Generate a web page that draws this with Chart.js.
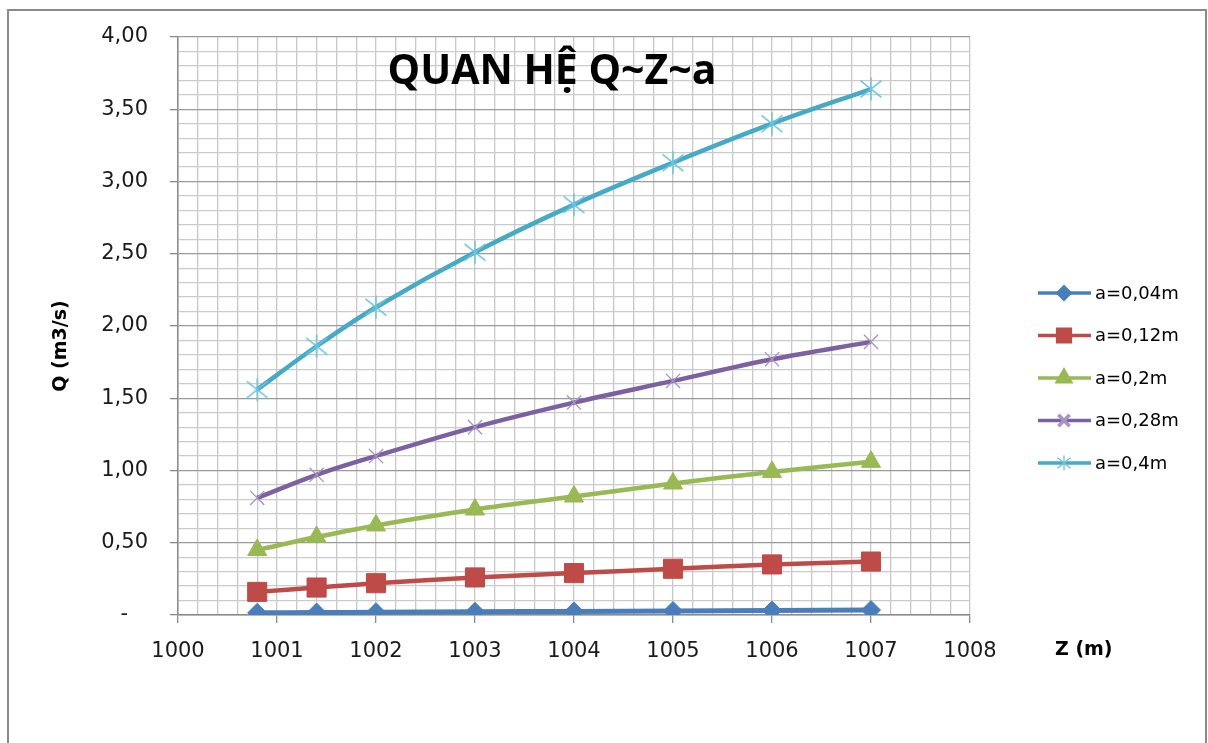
<!DOCTYPE html>
<html>
<head>
<meta charset="utf-8">
<script src="https://cdn.jsdelivr.net/npm/chart.js@4/dist/chart.umd.min.js"></script>
<style>
  body { margin: 0; background: #fff; overflow: hidden; }
  #frame { position: absolute; left: 7px; top: 9px; width: 1196px; height: 800px; border: 2px solid #8a8a8a; }
  #c { position: absolute; left: 0; top: 0; }
</style>
</head>
<body>
<div id="frame"></div>
<canvas id="c" width="1208" height="743" style="width:1208px;height:743px"></canvas>
<script>
// Z (m) values where Q was computed
var zValues = [1000.8, 1001.4, 1002, 1003, 1004, 1005, 1006, 1007];

// Q (m3/s) for each gate opening a
var q004 = [0.015, 0.017, 0.019, 0.022, 0.025, 0.028, 0.031, 0.034];
var q012 = [0.16, 0.19, 0.22, 0.26, 0.29, 0.32, 0.35, 0.37];
var q020 = [0.45, 0.54, 0.62, 0.73, 0.82, 0.91, 0.99, 1.06];
var q028 = [0.81, 0.97, 1.10, 1.30, 1.47, 1.62, 1.77, 1.89];
var q040 = [1.56, 1.86, 2.13, 2.51, 2.84, 3.13, 3.40, 3.64];

var seriesLabels = ['a=0,04m', 'a=0,12m', 'a=0,2m', 'a=0,28m', 'a=0,4m'];
var chartTitle = 'QUAN HỆ Q~Z~a';
var yTitle = 'Q (m3/s)';
var xTitle = 'Z (m)';

function pts(vals) {
    return vals.map(function (v, i) { return { x: zValues[i], y: v }; });
}

function isWhole(v, step) {
    var r = v / step;
    return Math.abs(r - Math.round(r)) < 1e-6;
}

// excel style asterisk marker (X plus a vertical bar)
function asterisk(size, color, lw) {
    var cv = document.createElement('canvas');
    cv.width = size; cv.height = size;
    var g = cv.getContext('2d');
    var h = size / 2, d = h - 1.5;
    g.strokeStyle = color;
    g.lineWidth = lw;
    g.beginPath();
    g.moveTo(h - d, h - d * 0.8); g.lineTo(h + d, h + d * 0.8);
    g.moveTo(h + d, h - d * 0.8); g.lineTo(h - d, h + d * 0.8);
    g.moveTo(h, 0.5); g.lineTo(h, size - 0.5);
    g.stroke();
    return cv;
}
var starBig = asterisk(24, '#6cc3dc', 1.5);
var starSmall = asterisk(16, '#6cc3dc', 1.3);

var styles = [
    { color: '#4a7ebb', mark: '#4a7ebb', style: 'rectRot', r: 9.5, bw: 1, lr: 6, lw: 5 },
    { color: '#be4b48', mark: '#be4b48', style: 'rect', r: 13.5, bw: 1, lr: 9, lw: 4.5 },
    { color: '#98b954', mark: '#98b954', style: 'triangle', r: 11, bw: 1, lr: 7.5, lw: 4.5 },
    { color: '#7d60a0', mark: '#a793c4', style: 'crossRot', r: 10, bw: 1.3, lr: 8, lw: 4.5 },
    { color: '#46aac5', mark: '#6cc3dc', style: starBig, r: 11, bw: 1.3, lr: 8, lw: 4.5 }
];

var allSeries = [q004, q012, q020, q028, q040];
var datasets = allSeries.map(function (vals, i) {
    var s = styles[i];
    return {
        label: seriesLabels[i],
        data: pts(vals),
        borderColor: s.color,
        backgroundColor: s.mark,
        borderWidth: s.lw,
        tension: 0.35,
        pointStyle: s.style,
        pointRadius: s.r,
        pointHoverRadius: s.r,
        pointBorderColor: s.mark,
        pointBackgroundColor: s.mark,
        pointBorderWidth: s.bw
    };
});

var extras = {
    id: 'extras',
    afterDraw: function (chart) {
        var ctx = chart.ctx;
        ctx.save();

        // title inside plot
        ctx.fillStyle = '#000';
        ctx.font = 'bold 41px "Open Sans"';
        ctx.textAlign = 'center';
        ctx.textBaseline = 'middle';
        ctx.fillText(chartTitle, 552, 72);

        // y axis title
        ctx.font = 'bold 19px "DejaVu Sans"';
        ctx.save();
        ctx.translate(61, 346);
        ctx.rotate(-Math.PI / 2);
        ctx.fillText(yTitle, 0, 0);
        ctx.restore();

        // x axis title, right of the axis
        ctx.textAlign = 'left';
        ctx.fillText(xTitle, 1055, 650);

        // legend
        ctx.font = '18px "DejaVu Sans"';
        chart.data.datasets.forEach(function (ds, i) {
            var s = styles[i];
            var y = 293 + i * 42.5;
            ctx.strokeStyle = s.color;
            ctx.lineWidth = 3.5;
            ctx.beginPath();
            ctx.moveTo(1038, y);
            ctx.lineTo(1091, y);
            ctx.stroke();
            ctx.fillStyle = s.mark;
            ctx.strokeStyle = s.mark;
            if (typeof s.style !== 'string') {
                ctx.drawImage(starSmall, 1064 - 8, y - 8);
            } else if (Chart.helpers && Chart.helpers.drawPoint) {
                Chart.helpers.drawPoint(ctx, { pointStyle: s.style, radius: s.lr, borderWidth: s.bw, rotation: 0 }, 1064, y);
            }
            ctx.fillStyle = '#000';
            ctx.textAlign = 'left';
            ctx.fillText(ds.label, 1095, y + 1);
        });
        ctx.restore();
    }
};

new Chart(document.getElementById('c'), {
    type: 'line',
    data: { datasets: datasets },
    plugins: [extras],
    options: {
        responsive: false,
        animation: false,
        layout: { padding: { left: 8, top: 37, right: 238, bottom: 0 } },
        plugins: {
            legend: { display: false },
            tooltip: { enabled: false }
        },
        scales: {
            x: {
                type: 'linear',
                min: 1000,
                max: 1008,
                afterFit: function (scale) { scale.height = 128; },
                ticks: {
                    stepSize: 0.2,
                    autoSkip: false,
                    maxRotation: 0,
                    padding: 16,
                    color: '#1a1a1a',
                    font: { family: 'DejaVu Sans', size: 21 },
                    callback: function (v) { return isWhole(v, 1) ? String(Math.round(v)) : ''; }
                },
                grid: {
                    color: '#c8c8c8',
                    lineWidth: 1.3,
                    tickLength: 8,
                    tickColor: function (c) { return c.tick && isWhole(c.tick.value, 1) ? '#8a8a8a' : 'rgba(0,0,0,0)'; }
                },
                border: { color: '#8a8a8a', width: 1.5 }
            },
            y: {
                min: 0,
                max: 4,
                afterFit: function (scale) { scale.width = 170; },
                ticks: {
                    stepSize: 0.1,
                    autoSkip: false,
                    padding: 22,
                    color: '#1a1a1a',
                    font: { family: 'DejaVu Sans', size: 21 },
                    callback: function (v) {
                        if (!isWhole(v, 0.5)) return '';
                        if (Math.abs(v) < 1e-6) return '-   ';
                        return v.toFixed(2).replace('.', ',');
                    }
                },
                grid: {
                    color: function (c) { return c.tick && isWhole(c.tick.value, 0.5) ? '#9a9a9a' : '#cbcbcb'; },
                    lineWidth: 1.3,
                    tickLength: 8,
                    tickColor: function (c) { return c.tick && isWhole(c.tick.value, 0.5) ? '#8a8a8a' : 'rgba(0,0,0,0)'; }
                },
                border: { color: '#8a8a8a', width: 1.5 }
            }
        }
    }
});
</script>
</body>
</html>
